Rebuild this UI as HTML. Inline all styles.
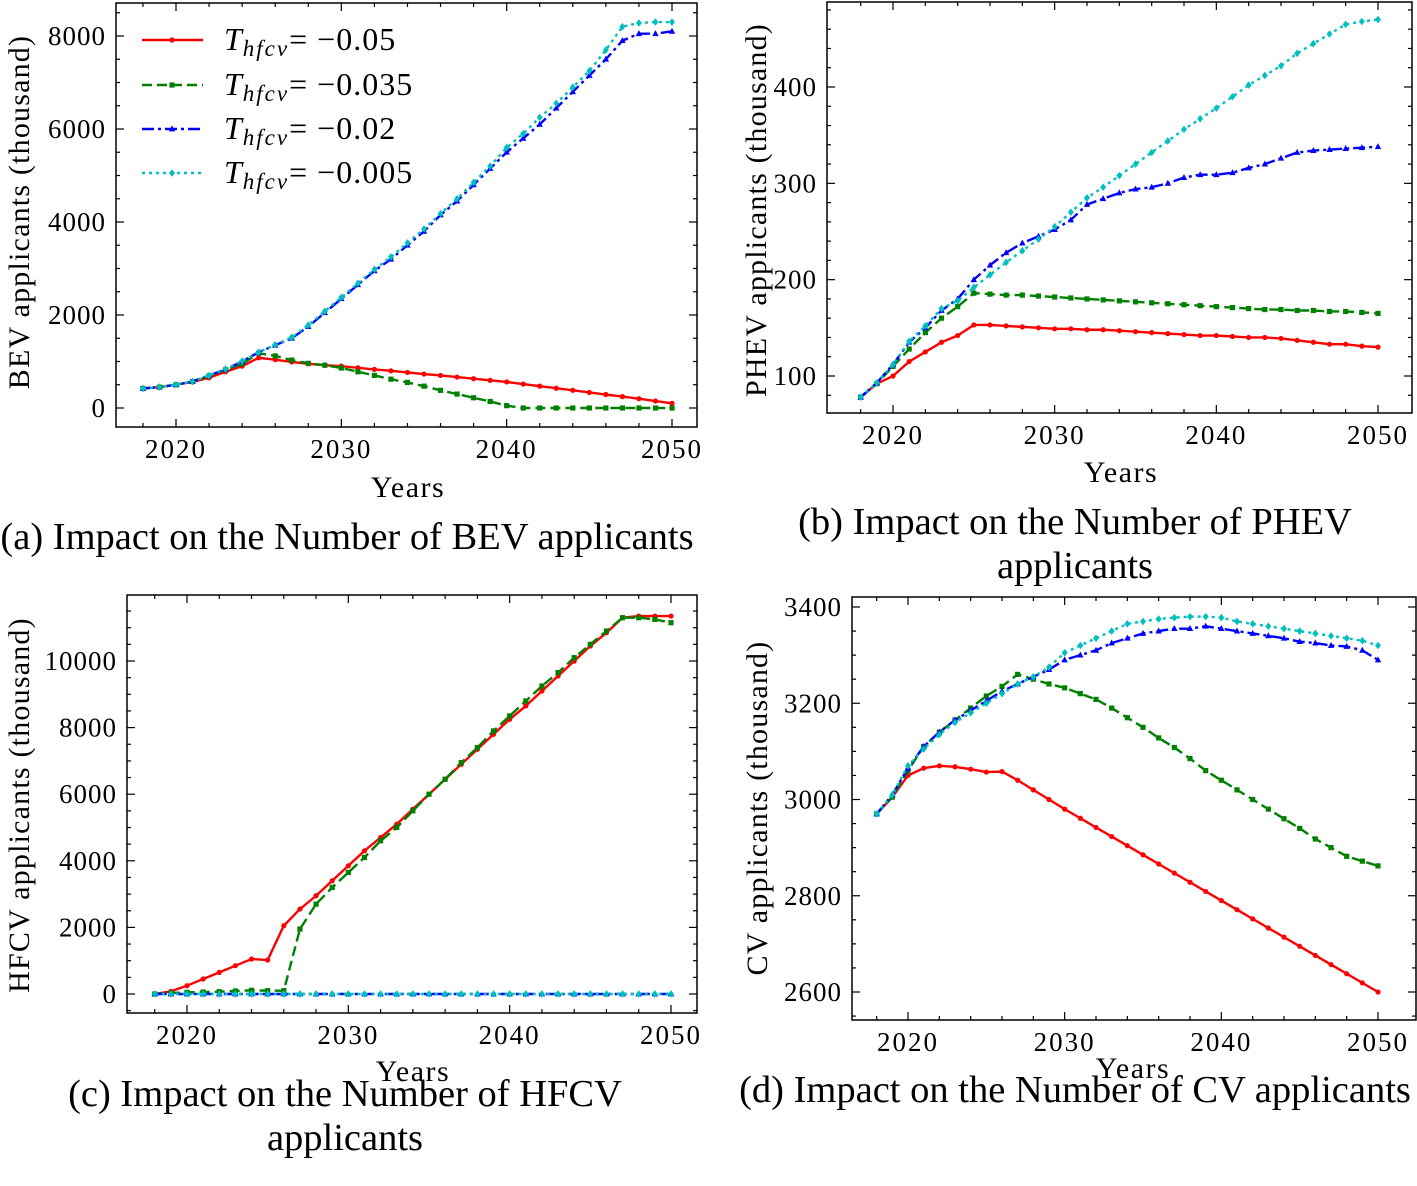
<!DOCTYPE html>
<html><head><meta charset="utf-8">
<style>
body{margin:0;background:#fff;width:1417px;height:1186px;overflow:hidden;}
svg{display:block;font-family:"Liberation Serif",serif;}
</style></head>
<body>
<svg id="fig" width="1417" height="1186" viewBox="0 0 1417 1186"></svg>
<script>
const years = [];
for (let y = 2018; y <= 2050; y++) years.push(y);
const seriesNames = ["-0.05", "-0.035", "-0.02", "-0.005"];

const bevRed = [420,450,500,560,650,780,900,1080,1040,990,950,920,900,865,830,800,765,730,700,665,630,595,560,515,470,425,380,335,290,245,200,150,100];
const bevGreen = [420,450,500,570,690,820,950,1180,1120,1030,960,920,860,780,700,620,550,470,380,300,220,140,50,0,0,0,0,0,0,0,0,0,0];
const bevBlue = [420,450,500,570,700,830,1000,1200,1350,1500,1750,2050,2350,2650,2950,3200,3500,3800,4150,4450,4800,5150,5500,5800,6100,6450,6800,7150,7500,7900,8050,8050,8100];
const bevCyan = [420,450,500,570,700,840,1010,1200,1360,1520,1780,2080,2380,2680,2980,3250,3550,3850,4180,4500,4850,5200,5600,5900,6250,6550,6900,7250,7700,8200,8280,8300,8300];

const phevRed = [78,92,100,115,125,135,142,153,153,152,151,150,149,149,148,148,147,146,145,144,143,142,142,141,140,140,139,137,135,133,133,131,130];
const phevGreen = [78,92,110,128,145,160,172,186,185,184,184,183,182,181,180,179,178,177,176,175,174,173,172,171,170,169,169,168,168,167,167,166,165];
const phevBlue = [78,93,112,135,150,168,180,200,215,228,238,245,252,262,278,284,290,294,296,300,306,309,309,311,316,320,326,332,334,335,336,337,338];
const phevCyan = [78,93,112,136,152,170,178,192,205,218,230,242,255,270,285,296,308,320,332,344,356,367,378,390,402,412,422,435,445,455,465,468,470];

const hfcvRed = [0,80,250,450,650,850,1050,1020,2050,2550,2950,3400,3850,4300,4700,5100,5550,6000,6450,6900,7350,7800,8250,8650,9100,9550,10000,10450,10850,11300,11350,11350,11350];
const hfcvGreen = [0,30,50,60,70,90,110,100,100,1950,2700,3200,3650,4100,4600,5000,5500,6000,6450,6950,7400,7900,8350,8800,9250,9650,10100,10500,10900,11300,11300,11250,11150];
const hfcvBlue = [0,0,0,0,0,0,0,0,0,0,0,0,0,0,0,0,0,0,0,0,0,0,0,0,0,0,0,0,0,0,0,0,0];
const hfcvCyan = [0,0,0,0,0,0,0,0,0,0,0,0,0,0,0,0,0,0,0,0,0,0,0,0,0,0,0,0,0,0,0,0,0];

const cvRed = [2970,3005,3050,3065,3070,3068,3063,3057,3058,3040,3020,3000,2980,2961,2942,2923,2904,2885,2866,2847,2828,2809,2790,2771,2752,2733,2714,2695,2676,2657,2638,2619,2600];
const cvGreen = [2970,3005,3060,3110,3140,3165,3190,3215,3235,3260,3250,3240,3232,3220,3208,3190,3170,3150,3128,3108,3085,3060,3040,3020,3000,2980,2960,2940,2918,2900,2882,2872,2862];
const cvBlue = [2970,3010,3065,3110,3140,3165,3185,3205,3225,3240,3255,3270,3290,3300,3310,3325,3335,3345,3350,3355,3355,3360,3355,3350,3345,3340,3335,3328,3325,3320,3318,3310,3290];
const cvCyan = [2970,3010,3070,3105,3135,3160,3180,3200,3220,3240,3255,3275,3305,3320,3335,3350,3365,3370,3375,3378,3380,3380,3378,3370,3365,3360,3355,3350,3345,3340,3335,3330,3320];

const bevTicks = [0,2000,4000,6000,8000];
const phevTicks = [100,200,300,400];
const hfcvTicks = [0,2000,4000,6000,8000,10000];
const cvTicks = [2600,2800,3000,3200,3400];
const xTicks = [2020,2030,2040,2050];

const NS = "http://www.w3.org/2000/svg";
const svg = document.getElementById("fig");
function mk(tag, attrs, parent) {
  const e = document.createElementNS(NS, tag);
  for (const k in attrs) e.setAttribute(k, attrs[k]);
  (parent || svg).appendChild(e);
  return e;
}
const styles = [
  {color:"#ff0000", dash:"", marker:"circle"},
  {color:"#008000", dash:"10,5", marker:"square"},
  {color:"#0000ff", dash:"12,4,3,4", marker:"tri"},
  {color:"#00bfbf", dash:"3,4", marker:"diamond"}
];
const seriesKeys = ["red","green","blue","cyan"];
function marker(g, kind, x, y, color) {
  let m;
  if (kind === "circle") m = mk("circle", {cx:x, cy:y, r:2.6, fill:color}, g);
  else if (kind === "square") m = mk("rect", {x:x-2.6, y:y-2.6, width:5.2, height:5.2, fill:color}, g);
  else if (kind === "tri") m = mk("polygon", {points:`${x},${y-3.6} ${x-3.2},${y+2.4} ${x+3.2},${y+2.4}`, fill:color}, g);
  else m = mk("polygon", {points:`${x},${y-3.8} ${x+3},${y} ${x},${y+3.8} ${x-3},${y}`, fill:color}, g);
  return m;
}

function panel(p) {
  const g = mk("g", {});
  
  
  const sx = v => p.x0px + (v - 2020) * (p.x1px - p.x0px) / 30;
  const sy = v => p.y0px + (v - p.y0v) * (p.y1px - p.y0px) / (p.y1v - p.y0v);
  const tg = mk("g", {stroke:"#000", "stroke-width":1.2}, g);
  
  
  for (let yr = 2018; yr <= 2050; yr += 2) {
    const x = sx(yr), major = yr % 10 === 0, L = major ? 8 : 4;
    mk("line", {x1:x, x2:x, y1:p.B, y2:p.B - L}, tg);
    mk("line", {x1:x, x2:x, y1:p.T, y2:p.T + L}, tg);
  }
  const step = p.yTicks[1] - p.yTicks[0], minor = step / p.minorN;
  for (let v = p.yTicks[0] - step; v <= p.yTicks[p.yTicks.length-1] + step; v += minor) {
    const y = sy(v);
    if (y < p.T + 1 || y > p.B - 1) continue;
    const major = Math.abs(((v - p.yTicks[0]) / step) - Math.round((v - p.yTicks[0]) / step)) < 1e-6;
    const L = major ? 8 : 4;
    mk("line", {x1:p.L, x2:p.L + L, y1:y, y2:y}, tg);
    mk("line", {x1:p.R, x2:p.R - L, y1:y, y2:y}, tg);
  }
  xTicks.forEach(t => {
    const tx = mk("text", {x:sx(t), y:p.B + 31, "font-size":27, "letter-spacing":2, "text-anchor":"middle"}, g);
    
    
    tx.textContent = t;
  });
  p.yTicks.forEach(t => {
    const ty = mk("text", {x:p.L - 10, y:sy(t) + 9, "font-size":27, "letter-spacing":1, "text-anchor":"end"}, g);
    
    
    ty.textContent = t;
  });
  p.data.forEach((arr, i) => {
    const st = styles[i];
    const sg = mk("g", {}, g);
    
    
    const pts = arr.map((v, j) => sx(years[j]) + "," + sy(v)).join(" ");
    mk("polyline", {points:pts, fill:"none", stroke:st.color, "stroke-width":2.4, "stroke-dasharray":st.dash}, sg);
    arr.forEach((v, j) => {
      const m = marker(sg, st.marker, sx(years[j]), sy(v), st.color);
      
      
    });
  });
  const box = mk("rect", {x:p.L, y:p.T, width:p.R - p.L, height:p.B - p.T, fill:"none", stroke:"#000", "stroke-width":1.5}, g);
  
  
  const xl = mk("text", {x:p.xlx, y:p.xly, "font-size":30, "letter-spacing":1.5, "text-anchor":"middle"}, g);
  
  
  xl.textContent = "Years";
  const yl = mk("text", {x:0, y:0, "font-size":30, "letter-spacing":1.2, "text-anchor":"middle", transform:`translate(${p.ylx},${p.yly}) rotate(-90)`}, g);
  
  
  yl.textContent = p.ylabel;
  p.caption.forEach((c, k) => {
    const ct = mk("text", {x:p.cx, y:p.cy + k * 44, "font-size":38.5, "text-anchor":"middle"}, g);
    
    
    ct.textContent = c;
  });
}

panel({name:"bev-chart", L:116, R:697, T:3, B:427, x0px:176, x1px:672, y0v:0, y1v:8000, y0px:408, y1px:36,
  yTicks:bevTicks, minorN:4, data:[bevRed,bevGreen,bevBlue,bevCyan], ylabel:"BEV applicants (thousand)",
  xlx:408, xly:497, ylx:29, yly:212, cx:347, cy:549, caption:["(a) Impact on the Number of BEV applicants"]});
panel({name:"phev-chart", L:827, R:1412, T:2, B:413, x0px:893, x1px:1378, y0v:100, y1v:400, y0px:376, y1px:87,
  yTicks:phevTicks, minorN:5, data:[phevRed,phevGreen,phevBlue,phevCyan], ylabel:"PHEV applicants (thousand)",
  xlx:1121, xly:482, ylx:766, yly:210, cx:1075, cy:534, caption:["(b) Impact on the Number of PHEV","applicants"]});
panel({name:"hfcv-chart", L:127, R:697, T:595, B:1013, x0px:187, x1px:671, y0v:0, y1v:10000, y0px:994, y1px:661,
  yTicks:hfcvTicks, minorN:4, data:[hfcvRed,hfcvGreen,hfcvBlue,hfcvCyan], ylabel:"HFCV applicants (thousand)",
  xlx:413, xly:1081, ylx:29, yly:805, cx:345, cy:1106, caption:["(c) Impact on the Number of HFCV","applicants"]});
panel({name:"cv-chart", L:852, R:1416, T:597, B:1020, x0px:908, x1px:1378, y0v:2600, y1v:3400, y0px:992, y1px:607,
  yTicks:cvTicks, minorN:4, data:[cvRed,cvGreen,cvBlue,cvCyan], ylabel:"CV applicants (thousand)",
  xlx:1133, xly:1078, ylx:767, yly:808, cx:1075, cy:1102, caption:["(d) Impact on the Number of CV applicants"]});

const lg = mk("g", {});


const legY = [40, 85, 129, 173];
seriesNames.forEach((nm, i) => {
  const st = styles[i];
  const eg = mk("g", {}, lg);
  
  
  mk("line", {x1:142, x2:203, y1:legY[i], y2:legY[i], stroke:st.color, "stroke-width":2.4, "stroke-dasharray":st.dash}, eg);
  marker(eg, st.marker, 172, legY[i], st.color);
  const t = mk("text", {x:224, y:legY[i] + 10, "font-size":32, "letter-spacing":1}, eg);
  t.innerHTML = '<tspan font-style="italic">T</tspan><tspan font-style="italic" font-size="23" dy="6" letter-spacing="2">hfcv</tspan><tspan dy="-6">= \u2212' + nm.slice(1) + '</tspan>';
});
</script>
</body></html>
